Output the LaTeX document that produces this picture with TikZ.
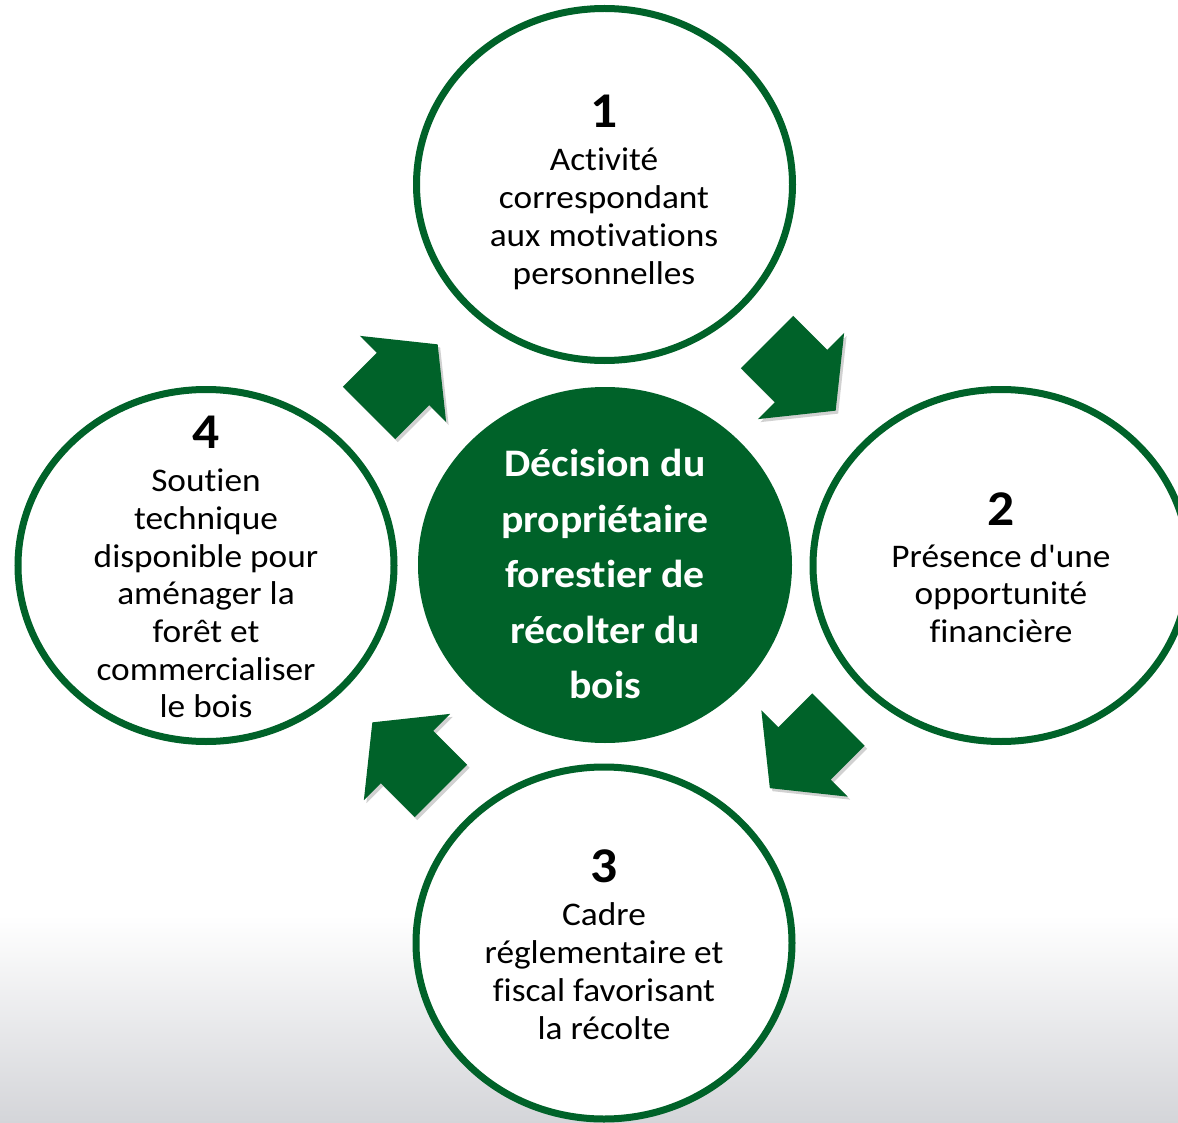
\documentclass[tikz,border=0pt]{standalone}
\usepackage{fontspec}
\setmainfont{Carlito}[FakeStretch=1.07, Ligatures={NoCommon,TeXOff}]
\usetikzlibrary{shapes.geometric,shadows}
\definecolor{fgreen}{RGB}{0,98,41}
\definecolor{bggray}{RGB}{212,213,217}
\begin{document}
\begin{tikzpicture}[x=1pt,y=-1pt,
  ring/.style={ellipse, draw=fgreen, line width=7pt, fill=white, minimum width=376pt, minimum height=352pt, inner sep=0pt,
    drop shadow={shadow xshift=1.5pt, shadow yshift=-2.5pt, opacity=.22, fill=black}},
  hub/.style={ellipse, fill=fgreen, minimum width=374pt, minimum height=356pt, inner sep=0pt},
  numtxt/.style={font=\fontsize{50}{60}\selectfont\bfseries, anchor=base, inner sep=0pt},
  bodytxt/.style={font=\fontsize{33}{37.7}\selectfont, align=center, inner sep=0pt},
  hubtxt/.style={font=\fontsize{39}{55.5}\selectfont\bfseries, text=white, align=center, inner sep=0pt},
  blockarrow/.pic={\fill[pic actions] (-48,-37) -- (0,-37) -- (0,-61) -- (49,0) -- (0,61) -- (0,37) -- (-48,37) -- cycle;},
  arrowfill/.style={fill=fgreen},
  arrowshadow/.style={fill=black, fill opacity=0.18}
]
\useasboundingbox (0,0) rectangle (1178,1123);
\clip (0,0) rectangle (1178,1123);
% background
\fill[white] (0,0) rectangle (1178,1123);
\shade[top color=white, bottom color=bggray] (0,915) rectangle (1178,1123);

% outer circles
\node[ring] (c1) at (604.5,184.5) {};
\node[ring] (c2) at (1001,565.5) {};
\node[ring] (c3) at (604,943) {};
\node[ring] (c4) at (206,565.5) {};
% centre
\node[hub] (hub) at (605,565) {};

% block arrows (shadows then arrows)
\pic[rotate=45, arrowshadow] (s1) at (405.5,382) {blockarrow};
\pic[rotate=-45, arrowshadow] (s2) at (803.5,379) {blockarrow};
\pic[rotate=-135, arrowshadow] (s3) at (807,756.5) {blockarrow};
\pic[rotate=135, arrowshadow] (s4) at (409.5,760) {blockarrow};
\pic[rotate=45, arrowfill] (a1) at (403,379) {blockarrow};
\pic[rotate=-45, arrowfill] (a2) at (801,376) {blockarrow};
\pic[rotate=-135, arrowfill] (a3) at (804.5,753.5) {blockarrow};
\pic[rotate=135, arrowfill] (a4) at (407,757) {blockarrow};

% texts
\node[numtxt] (n1) at (604,128) {1};
\node[bodytxt] (t1) at (604,220) {\strut Activité\\\strut correspondant\\\strut aux motivations\\\strut personnelles};
\node[numtxt] (n2) at (1001,525) {2};
\node[bodytxt] (t2) at (1001,597.2) {\strut Présence d'une\\\strut opportunité\\\strut financière};
\node[numtxt] (n3) at (604,882) {3};
\node[bodytxt] (t3) at (604,975) {\strut Cadre\\\strut réglementaire et\\\strut fiscal favorisant\\\strut la récolte};
\node[numtxt] (n4) at (206.5,448) {4};
\node[bodytxt] (t4) at (206,597.3) {\strut Soutien\\\strut technique\\\strut disponible pour\\\strut aménager la\\\strut forêt et\\\strut commercialiser\\\strut le bois};
\node[hubtxt] (ht) at (605,576.6) {\strut Décision du\\\strut propriétaire\\\strut forestier de\\\strut récolter du\\\strut bois};
\end{tikzpicture}
\end{document}
